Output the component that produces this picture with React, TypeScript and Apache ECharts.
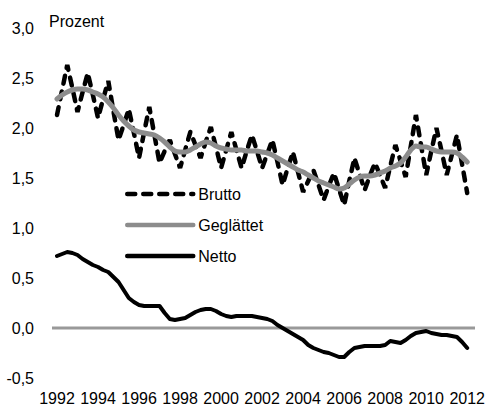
import React, { useEffect, useRef } from "react";
import * as echarts from "echarts";

const years = ["1992","1993","1994","1995","1996","1997","1998","1999","2000","2001","2002","2003","2004","2005","2006","2007","2008","2009","2010","2011","2012"];
const quarters: string[] = [];
years.forEach((y) => ["Q1", "Q2", "Q3", "Q4"].forEach((q) => quarters.push(y + q)));
const categories = quarters.slice(0, 81); // 1992Q1 .. 2012Q1

const brutto = [
  2.13, 2.38, 2.63, 2.40, 2.16, 2.36, 2.55, 2.33, 2.10, 2.29,
  2.47, 2.17, 1.88, 2.03, 2.19, 1.95, 1.70, 1.96, 2.21, 1.93,
  1.65, 1.77, 1.88, 1.74, 1.60, 1.78, 1.96, 1.83, 1.70, 1.86,
  2.01, 1.81, 1.60, 1.78, 1.96, 1.78, 1.60, 1.77, 1.93, 1.77,
  1.60, 1.74, 1.88, 1.66, 1.43, 1.60, 1.76, 1.56, 1.36, 1.47,
  1.58, 1.43, 1.28, 1.42, 1.55, 1.39, 1.23, 1.47, 1.70, 1.54,
  1.38, 1.52, 1.65, 1.53, 1.40, 1.62, 1.83, 1.67, 1.51, 1.82,
  2.13, 1.83, 1.53, 1.77, 2.00, 1.77, 1.53, 1.73, 1.93, 1.64,
  1.35,
];

const geglaettet = [
  2.29, 2.33, 2.36, 2.38, 2.39, 2.39, 2.38, 2.36, 2.34, 2.31,
  2.26, 2.20, 2.13, 2.07, 2.02, 1.98, 1.96, 1.95, 1.94, 1.93,
  1.90, 1.86, 1.81, 1.77, 1.76, 1.76, 1.78, 1.81, 1.84, 1.86,
  1.85, 1.82, 1.80, 1.79, 1.78, 1.78, 1.78, 1.77, 1.77, 1.77,
  1.76, 1.75, 1.73, 1.70, 1.67, 1.64, 1.61, 1.58, 1.56, 1.53,
  1.50, 1.47, 1.45, 1.43, 1.41, 1.39, 1.40, 1.44, 1.48, 1.51,
  1.52, 1.52, 1.53, 1.55, 1.57, 1.60, 1.62, 1.65, 1.71, 1.78,
  1.82, 1.81, 1.81, 1.79, 1.77, 1.76, 1.76, 1.76, 1.75, 1.71,
  1.66,
];

const netto = [
  0.72, 0.74, 0.76, 0.75, 0.73, 0.69, 0.66, 0.63, 0.61, 0.58,
  0.56, 0.51, 0.46, 0.38, 0.30, 0.26, 0.23, 0.22, 0.22, 0.22,
  0.22, 0.15, 0.09, 0.08, 0.09, 0.10, 0.13, 0.16, 0.18, 0.19,
  0.19, 0.17, 0.14, 0.12, 0.11, 0.12, 0.12, 0.12, 0.12, 0.11,
  0.10, 0.09, 0.07, 0.03, 0.00, -0.03, -0.06, -0.09, -0.12, -0.17,
  -0.20, -0.22, -0.24, -0.25, -0.27, -0.29, -0.29, -0.24, -0.20, -0.19,
  -0.18, -0.18, -0.18, -0.18, -0.17, -0.13, -0.14, -0.15, -0.12, -0.08,
  -0.05, -0.04, -0.03, -0.05, -0.06, -0.07, -0.07, -0.08, -0.09, -0.14,
  -0.20,
];

const FONT = "'Liberation Sans', Arial, sans-serif";

export default function App() {
  const ref = useRef<HTMLDivElement>(null);
  useEffect(() => {
    if (!ref.current) return;
    const chart = echarts.init(ref.current, null, { renderer: "svg" });
    chart.setOption({
      animation: false,
      backgroundColor: "#ffffff",
      textStyle: { fontFamily: FONT },
      grid: { left: 57, right: 17, top: 28, bottom: 30, containLabel: false },
      legend: {
        orient: "vertical",
        left: 125,
        top: 186,
        padding: 0,
        itemWidth: 66,
        itemHeight: 16,
        itemGap: 15,
        textStyle: { fontSize: 16, color: "#000", fontFamily: FONT },
        lineStyle: { width: 4.5 },
        itemStyle: { color: "rgba(0,0,0,0)", borderWidth: 0, opacity: 0 },
        data: ["Brutto", "Geglättet", "Netto"],
      },
      xAxis: {
        type: "category",
        data: categories,
        boundaryGap: false,
        axisLine: { show: false },
        axisTick: { show: false },
        splitLine: { show: false },
        axisLabel: {
          interval: 7,
          margin: 12,
          fontSize: 16,
          color: "#000",
          fontFamily: FONT,
          formatter: (v: string) => v.slice(0, 4),
        },
      },
      yAxis: {
        type: "value",
        min: -0.5,
        max: 3,
        interval: 0.5,
        axisLine: { show: false },
        axisTick: { show: false },
        splitLine: { show: false },
        axisLabel: {
          margin: 23,
          fontSize: 16,
          color: "#000",
          fontFamily: FONT,
          formatter: (v: number) => v.toFixed(1).replace(".", ","),
        },
      },
      series: [
        {
          name: "Brutto",
          type: "line",
          data: brutto,
          symbol: "none",
          lineStyle: { color: "#000", width: 4.5, type: [8, 8], cap: "round" },
          itemStyle: { color: "#000" },
        },
        {
          name: "Geglättet",
          type: "line",
          data: geglaettet,
          symbol: "none",
          smooth: 0.3,
          lineStyle: { color: "#8c8c8c", width: 5, cap: "round" },
          itemStyle: { color: "#8c8c8c" },
        },
        {
          name: "Netto",
          type: "line",
          data: netto,
          symbol: "none",
          lineStyle: { color: "#000", width: 4, cap: "round", join: "round" },
          itemStyle: { color: "#000" },
        },
      ],
    });
    const y0 = chart.convertToPixel({ yAxisIndex: 0 }, 0) as number;
    chart.setOption({
      graphic: [
        {
          type: "text",
          left: 49,
          top: 13,
          style: { text: "Prozent", fontSize: 16, fontFamily: FONT, fill: "#000" },
        },
        {
          type: "line",
          z: 1,
          silent: true,
          shape: { x1: 52, y1: y0, x2: 475, y2: y0 },
          style: { stroke: "#999999", lineWidth: 3 },
        },
      ],
    });
    return () => chart.dispose();
  }, []);
  return (
    <div
      ref={ref}
      style={{ position: "fixed", left: 0, top: 0, width: 488, height: 408 }}
    />
  );
}
